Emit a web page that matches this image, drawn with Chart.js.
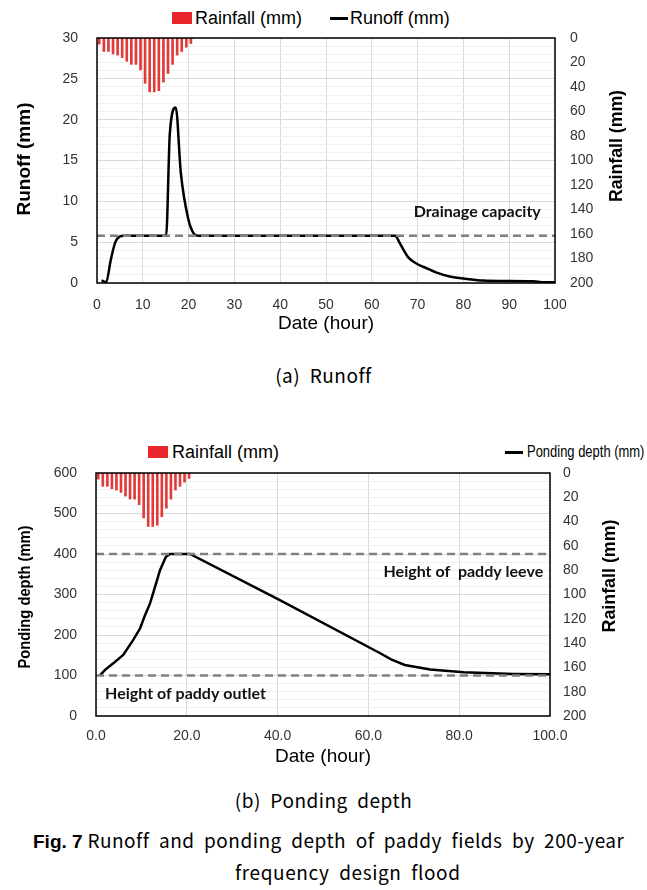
<!DOCTYPE html>
<html>
<head>
<meta charset="utf-8">
<script src="https://cdn.jsdelivr.net/npm/chart.js@4.4.1/dist/chart.umd.min.js"></script>
<style>
  body { margin: 0; background: #fff; width: 647px; height: 890px; position: relative; overflow: hidden; font-family: 'Liberation Sans', Arial, sans-serif; }
  canvas { position: absolute; left: 0; }
  .lg { position: absolute; font-size: 18px; line-height: 20px; color: #000; white-space: nowrap; transform-origin: left center; }
  .box { position: absolute; width: 20px; height: 12px; background: #e8262b; }
  .ln { position: absolute; width: 18px; height: 3px; background: #000; }
  .cap { position: absolute; font-family: 'Noto Sans CJK KR', sans-serif; font-size: 19px; line-height: 24px; color: #000; white-space: nowrap; letter-spacing: 0.5px; }
  .cap b { font-family: 'Liberation Sans', Arial, sans-serif; font-weight: bold; letter-spacing: 0; }
</style>
</head>
<body>

<div class="box" style="left:172px;top:12px"></div>
<div class="lg" style="left:195px;top:8px">Rainfall (mm)</div>
<div class="ln" style="left:330px;top:17px"></div>
<div class="lg" style="left:350px;top:8px">Runoff (mm)</div>
<canvas id="chart-runoff" width="647" height="340" style="top:0"></canvas>
<div class="cap" style="left:0;width:647px;text-align:center;top:363px">(a)&nbsp; Runoff</div>

<div class="box" style="left:148px;top:446px"></div>
<div class="lg" style="left:172px;top:442px">Rainfall (mm)</div>
<div class="ln" style="left:505px;top:451px"></div>
<div class="lg" style="left:527px;top:442px;font-size:16px;transform:scaleX(0.81)">Ponding depth (mm)</div>
<canvas id="chart-ponding" width="647" height="330" style="top:440px"></canvas>
<div class="cap" style="left:0;width:647px;text-align:center;top:788px">(b)&nbsp; Ponding&nbsp; depth</div>

<div class="cap" style="left:33px;top:828px"><b>Fig. 7</b> Runoff&nbsp; and&nbsp; ponding&nbsp; depth&nbsp; of&nbsp; paddy&nbsp; fields&nbsp; by&nbsp; 200-year</div>
<div class="cap" style="left:235px;top:860px;letter-spacing:0.6px">frequency&nbsp; design&nbsp; flood</div>

<script>
// Hourly rainfall of the 200-year design storm (same in both panels)
const rainHours = [0.5, 1.5, 2.5, 3.5, 4.5, 5.5, 6.5, 7.5, 8.5, 9.5, 10.5, 11.5, 12.5, 13.5, 14.5, 15.5, 16.5, 17.5, 18.5, 19.5, 20.5];
const rainfall = [5, 11, 11, 13, 14, 16, 19, 21.5, 21.5, 26, 37, 44, 44, 43, 36, 29, 21.5, 14, 11, 7.5, 4.5];

// (a) runoff
const runoffHours = [1, 2, 3, 4, 5, 6, 15.1, 15.9, 17.2, 18.3, 19.9, 21.2, 22, 65.1, 66, 67, 68, 70, 72, 74, 77, 80.7, 84.3, 88, 95.3, 97.5, 100];
const runoff = [0.3, 0.1, 2.8, 5.0, 5.7, 5.8, 5.8, 18.3, 21.5, 13.5, 7.9, 6.0, 5.8, 5.8, 5.0, 4.0, 3.1, 2.3, 1.8, 1.3, 0.8, 0.5, 0.3, 0.25, 0.22, 0.08, 0.08];
const drainageCapacity = 5.8;

// (b) ponding depth
const pondHours = [0.9, 2, 3.8, 6, 8.2, 9.7, 10.8, 11.9, 13, 14.1, 15.4, 16.3, 20.7, 40.5, 62.6, 65, 68, 73.6, 81, 92, 100];
const ponding = [101, 114, 130, 151, 188, 216, 249, 278, 319, 360, 393, 400, 400, 286, 155, 140, 126, 115, 108, 104, 103];
const leeveHeight = 400;
const outletHeight = 100;

const fontFace = "'Liberation Sans', Arial, sans-serif";
const tickFont = { family: fontFace, size: 14 };
const tickColor = '#333';

// draws rotated text (bottom to top) squeezed to a given length
function drawVerticalTitle(ctx, t) {
    ctx.save();
    ctx.translate(t.x, t.y);
    ctx.rotate(-Math.PI / 2);
    ctx.font = 'bold ' + t.size + 'px ' + fontFace;
    const w = ctx.measureText(t.text).width;
    ctx.scale(Math.min(1, t.len / w), 1);
    ctx.fillStyle = '#000';
    ctx.textAlign = 'center';
    ctx.textBaseline = 'middle';
    ctx.fillText(t.text, 0, 0);
    ctx.restore();
}

// plot frame, notes inside the plot and both axis titles
const overlay = {
    id: 'overlay',
    afterDatasetsDraw(chart, args, opts) {
        const { ctx, chartArea: a, scales } = chart;
        ctx.save();
        ctx.strokeStyle = '#000';
        ctx.lineWidth = 1.5;
        ctx.strokeRect(a.left, a.top, a.right - a.left, a.bottom - a.top);

        ctx.fillStyle = '#111';
        ctx.font = 'bold 16px Lato, sans-serif';
        ctx.textBaseline = 'middle';
        opts.notes.forEach(n => {
            ctx.textAlign = n.align;
            ctx.fillText(n.text, scales.x.getPixelForValue(n.x), scales.y.getPixelForValue(n.y));
        });
        ctx.restore();

        drawVerticalTitle(ctx, opts.leftTitle);
        drawVerticalTitle(ctx, opts.rightTitle);
    }
};

function refLine(level) {
    return {
        data: [{ x: 0, y: level }, { x: 100, y: level }],
        borderColor: '#808080',
        borderWidth: 2.5,
        borderDash: [8, 5],
        pointRadius: 0,
        yAxisID: 'y'
    };
}

function buildChart(canvasId, o) {
    const ctx = document.getElementById(canvasId).getContext('2d');
    return new Chart(ctx, {
        type: 'line',
        plugins: [overlay],
        data: {
            datasets: [
                ...o.levels.map(refLine),
                {
                    data: o.hours.map((h, i) => ({ x: h, y: o.values[i] })),
                    borderColor: '#000',
                    borderWidth: 2.5,
                    pointRadius: 0,
                    cubicInterpolationMode: o.smooth ? 'monotone' : 'default',
                    tension: 0,
                    yAxisID: 'y'
                },
                {
                    type: 'bar',
                    data: rainHours.map((h, i) => ({ x: h, y: rainfall[i] })),
                    backgroundColor: '#e03a3a',
                    barThickness: 2,
                    yAxisID: 'y2'
                }
            ]
        },
        options: {
            responsive: false,
            animation: false,
            layout: { padding: { top: o.padTop, left: 0, right: 0, bottom: 0 } },
            plugins: {
                legend: { display: false },
                tooltip: { enabled: false },
                overlay: { notes: o.notes, leftTitle: o.leftTitle, rightTitle: o.rightTitle }
            },
            scales: {
                x: {
                    type: 'linear',
                    min: 0,
                    max: 100,
                    offset: false,
                    grid: { color: '#d9d9d9', drawTicks: false, offset: false },
                    border: { display: false },
                    ticks: { stepSize: o.xStep, color: tickColor, font: tickFont, padding: o.xPad, maxRotation: 0, callback: o.xFmt },
                    title: { display: true, text: 'Date (hour)', color: '#000', font: { family: fontFace, size: 19 }, padding: { top: 0, bottom: o.xTitlePad } },
                    afterFit: s => { s.height = o.xHeight; }
                },
                y: {
                    position: 'left',
                    min: 0,
                    max: o.yMax,
                    grid: {
                        color: c => (c.tick.value % o.yStep === 0 ? '#d9d9d9' : '#f0f0f0'),
                        drawTicks: false
                    },
                    border: { display: false },
                    ticks: {
                        stepSize: o.yMinor,
                        autoSkip: false,
                        color: tickColor,
                        font: tickFont,
                        padding: 19,
                        callback: v => (v % o.yStep === 0 ? v : '')
                    },
                    afterFit: s => { s.width = o.leftWidth; }
                },
                y2: {
                    position: 'right',
                    min: 0,
                    max: 200,
                    reverse: true,
                    grid: { display: false, drawTicks: false },
                    border: { display: false },
                    ticks: { stepSize: 20, color: tickColor, font: tickFont, padding: o.rightPad },
                    afterFit: s => { s.width = o.rightWidth; }
                }
            }
        }
    });
}

buildChart('chart-runoff', {
    hours: runoffHours,
    values: runoff,
    levels: [drainageCapacity],
    smooth: true,
    yMax: 30, yStep: 5, yMinor: 1,
    xStep: 10, xFmt: v => v,
    padTop: 38, leftWidth: 97, rightWidth: 92, xHeight: 57,
    xPad: 14, xTitlePad: 5, rightPad: 15,
    leftTitle: { text: 'Runoff (mm)', size: 19, x: 25, y: 159, len: 118 },
    rightTitle: { text: 'Rainfall (mm)', size: 19, x: 617, y: 146, len: 112 },
    notes: [{ text: 'Drainage capacity', x: 96.9, y: 8.7, align: 'right' }]
});

buildChart('chart-ponding', {
    hours: pondHours,
    values: ponding,
    levels: [leeveHeight, outletHeight],
    smooth: false,
    yMax: 600, yStep: 100, yMinor: 20,
    xStep: 20, xFmt: v => v.toFixed(1),
    padTop: 33, leftWidth: 96, rightWidth: 97, xHeight: 54,
    xPad: 12, xTitlePad: 2, rightPad: 13,
    leftTitle: { text: 'Ponding depth (mm)', size: 17, x: 25, y: 157, len: 143 },
    rightTitle: { text: 'Rainfall (mm)', size: 19, x: 610, y: 136, len: 113 },
    notes: [
        { text: 'Height of  paddy leeve', x: 98.5, y: 355, align: 'right' },
        { text: 'Height of paddy outlet', x: 2.0, y: 54, align: 'left' }
    ]
});
</script>
</body>
</html>
